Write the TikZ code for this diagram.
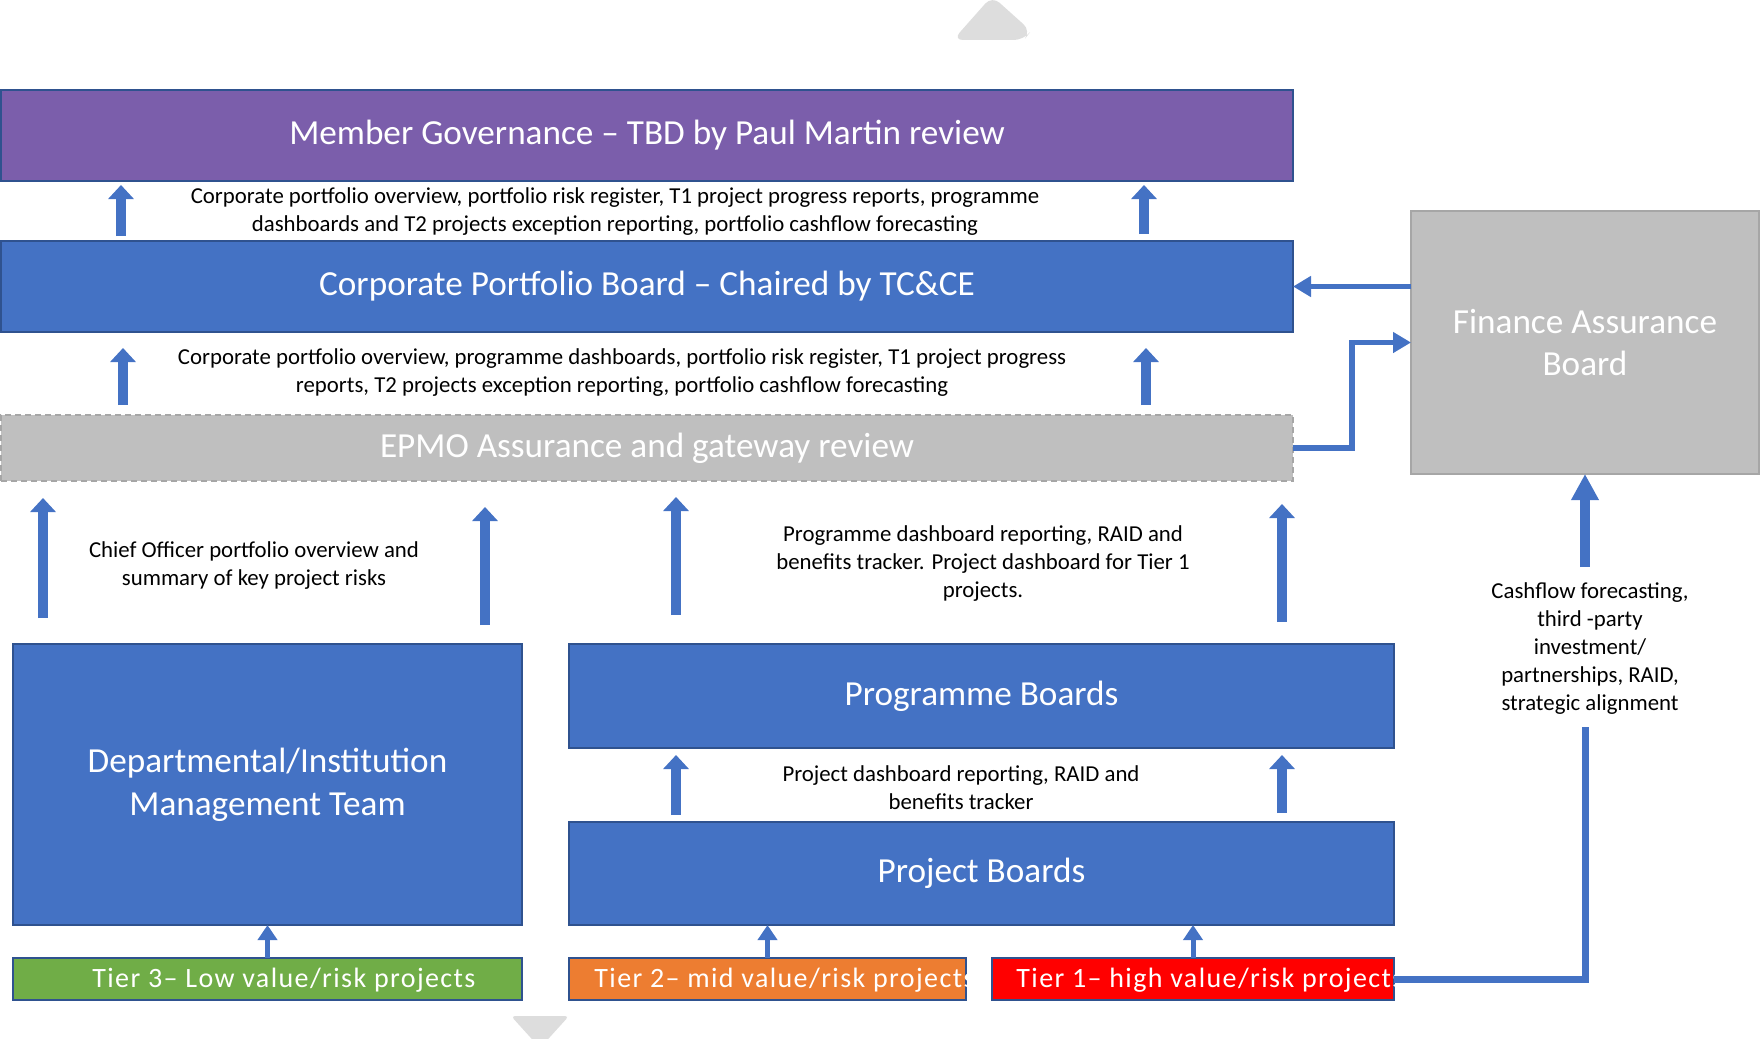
\documentclass[tikz,border=0pt]{standalone}
\usepackage{fontspec}
\setmainfont{Carlito}
\newfontfamily\tierfont[LetterSpace=5]{Carlito}
\usetikzlibrary{arrows.meta}
\definecolor{cblue}{HTML}{4472C4}
\definecolor{cborder}{HTML}{2F528F}
\definecolor{cpurple}{RGB}{123,94,171}
\definecolor{cgray}{HTML}{BFBFBF}
\definecolor{cgreen}{HTML}{70AD47}
\definecolor{corange}{HTML}{ED7D31}
\definecolor{cred}{HTML}{FF0000}
\definecolor{ctri}{HTML}{DDDDDD}
\definecolor{cdash}{HTML}{A6A6A6}
\begin{document}
\begin{tikzpicture}[x=0.5pt,y=-0.5pt,
 box/.style={draw=cborder, line width=0.8pt, fill=cblue, text=white, inner sep=0pt, outer sep=0pt, align=center, font=\fontsize{17.6}{21.3}\selectfont},
 lbl/.style={align=center, inner sep=0pt, yshift=-1pt, font=\fontsize{11.4}{14}\selectfont},
 blockarrow/.style={draw=cblue, line width=5pt, -{Triangle[width=12.5pt,length=7pt]}},
 bigarrow/.style={draw=cblue, line width=5pt, -{Triangle[width=13pt,length=13pt]}},
 conn/.style={draw=cblue, line width=2.7pt, -{Triangle[width=10pt,length=9pt]}},
 plainconn/.style={draw=cblue, line width=3.5pt},
 tierarrow/.style={draw=cblue, line width=2.5pt, -{Triangle[width=9.5pt,length=7.5pt]}},
 tierbox/.style={draw=cborder, line width=0.8pt, inner sep=0pt, outer sep=0pt, minimum height=21pt},
 tiertext/.style={text=white, anchor=west, inner sep=0pt, font=\tierfont\fontsize{14}{16}\selectfont},
]
\useasboundingbox (0,0) rectangle (1760,1038);
\begin{scope}
\clip (0,0) rectangle (1760,1038);
\fill[ctri, rounded corners=5pt] (953,40) -- (992,-4) -- (1031,31) -- (1024,40) -- cycle;
\fill[ctri, rounded corners=2pt] (511,1016) -- (569,1016) -- (540,1048) -- cycle;
\end{scope}

% boxes
\node[box, fill=cpurple, minimum width=646pt, minimum height=45.5pt] (mg) at (647,135.5) {Member Governance – TBD by Paul Martin review};
\node[box, minimum width=646pt, minimum height=45.5pt] (cpb) at (647,286.5) {Corporate Portfolio Board – Chaired by TC\&CE};
\node[box, fill=cgray, draw=cdash, dash pattern=on 3pt off 2pt, line width=1pt, minimum width=646pt, minimum height=33pt] (epmo) at (647,448) {EPMO Assurance and gateway review};
\node[box, fill=cgray, draw=cdash, line width=0.6pt, minimum width=174pt, minimum height=131.5pt] (fab) at (1585,342.5) {Finance Assurance\\Board};
\node[box, minimum width=254.5pt, minimum height=140.5pt] (dept) at (267.5,784.5) {Departmental/Institution\\Management Team};
\node[box, minimum width=412.5pt, minimum height=52pt] (pb) at (981.5,696) {Programme Boards};
\node[box, minimum width=412.5pt, minimum height=51.5pt] (pj) at (981.5,873.5) {Project Boards};
\node[tierbox, fill=cgreen, minimum width=254.5pt] (t3) at (267.5,979) {};
\node[tierbox, fill=corange, minimum width=198.5pt] (t2) at (767.5,979) {};
\node[tierbox, fill=cred, minimum width=201pt] (t1) at (1193,979) {};
\begin{scope}
\clip (t3.south west) rectangle (t3.north east);
\node[tiertext] (t3l) at (92,980) {Tier 3– Low value/risk projects};
\end{scope}
\begin{scope}
\clip (t2.south west) rectangle (t2.north east);
\node[tiertext] (t2l) at (594,980) {Tier 2– mid value/risk projects};
\end{scope}
\begin{scope}
\clip (t1.south west) rectangle (t1.north east);
\node[tiertext] (t1l) at (1016,980) {Tier 1– high value/risk projects};
\end{scope}

% labels
\node[lbl] (l1) at (615,209.5) {Corporate portfolio overview, portfolio risk register, T1 project progress reports, programme\\dashboards and T2 projects exception reporting, portfolio cashflow forecasting};
\node[lbl] (l2) at (622,371) {Corporate portfolio overview, programme dashboards, portfolio risk register, T1 project progress\\reports, T2 projects exception reporting, portfolio cashflow forecasting};
\node[lbl] (l3) at (254,564) {Chief Officer portfolio overview and\\summary of key project risks};
\node[lbl] (l4) at (983,562) {Programme dashboard reporting, RAID and\\benefits tracker. Project dashboard for Tier 1\\projects.};
\node[lbl] (l5) at (961,786) {Project dashboard reporting, RAID and\\benefits tracker};
\node[lbl] (l6) at (1590,647) {Cashflow forecasting,\\third -party\\investment/\\partnerships, RAID,\\strategic alignment};

% block arrows
\coordinate (a1s) at (121,236); \coordinate (a1e) at (121,185);
\coordinate (a2s) at (1144,234); \coordinate (a2e) at (1144,185);
\coordinate (a3s) at (123,405); \coordinate (a3e) at (123,348);
\coordinate (a4s) at (1146,405); \coordinate (a4e) at (1146,348);
\coordinate (a5s) at (43,618); \coordinate (a5e) at (43,498);
\coordinate (a6s) at (485,625); \coordinate (a6e) at (485,507);
\coordinate (a7s) at (676,615); \coordinate (a7e) at (676,497);
\coordinate (a8s) at (1282,622); \coordinate (a8e) at (1282,504);
\coordinate (a9s) at (676,815); \coordinate (a9e) at (676,755);
\coordinate (a10s) at (1282,813); \coordinate (a10e) at (1282,755);
\foreach \i in {1,...,10} {\draw[blockarrow] (a\i s) -- (a\i e);}

% tier arrows
\draw[tierarrow] (t3.north) -- (dept.south);
\draw[tierarrow] (t2.north) -- (t2.north |- pj.south);
\draw[tierarrow] (t1.north) -- (t1.north |- pj.south);

% finance connectors
\draw[conn] (fab.west |- cpb.east) -- (cpb.east);
\draw[conn] (epmo.east) -- ++(59,0) |- (fab.west);
\coordinate (cflow) at (1585,727);
\coordinate (cup) at (1585,567);
\draw[plainconn] (t1.east) -| (cflow);
\draw[bigarrow] (cup) -- (fab.south);
\end{tikzpicture}
\end{document}
